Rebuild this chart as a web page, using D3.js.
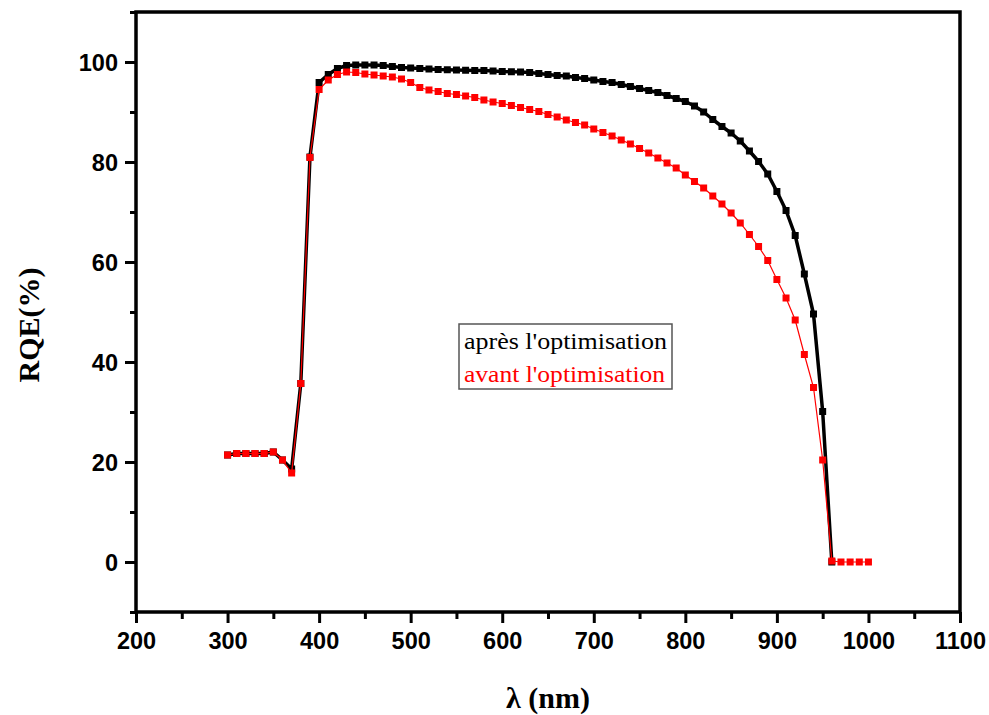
<!DOCTYPE html>
<html><head><meta charset="utf-8">
<script src="https://cdn.jsdelivr.net/npm/d3@7"></script>
<style>
html,body{margin:0;padding:0;background:#fff;}
svg{display:block;}
</style></head>
<body>
<svg id="chart" width="989" height="715"></svg>
<script>
const wavelengths = [300,310,320,330,340,350,360,370,380,390,400,410,420,430,440,450,460,470,480,490,500,510,520,530,540,550,560,570,580,590,600,610,620,630,640,650,660,670,680,690,700,710,720,730,740,750,760,770,780,790,800,810,820,830,840,850,860,870,880,890,900,910,920,930,940,950,960,970,980,990,1000];
const apres = [21.4,21.7,21.7,21.7,21.7,22.0,20.4,18.6,35.7,81.0,95.9,97.5,98.7,99.3,99.4,99.4,99.4,99.3,99.1,98.9,98.8,98.7,98.6,98.5,98.45,98.4,98.35,98.3,98.3,98.2,98.1,98.05,98.0,97.9,97.7,97.5,97.3,97.2,96.9,96.7,96.4,96.1,95.9,95.5,95.1,94.7,94.3,93.9,93.3,92.7,92.1,91.2,90.0,88.5,87.1,85.8,84.2,82.2,80.1,77.6,74.1,70.3,65.3,57.6,49.6,30.1,0];
const avant = [21.4,21.7,21.7,21.7,21.7,22.0,20.4,17.8,35.7,80.9,94.5,96.4,97.5,98.0,97.9,97.6,97.4,97.2,97.0,96.6,95.9,94.9,94.4,94.1,93.7,93.5,93.2,92.9,92.4,92.0,91.7,91.3,90.9,90.5,90.1,89.5,89.0,88.4,87.9,87.4,86.6,85.9,85.2,84.4,83.6,82.7,81.8,80.8,79.8,78.8,77.4,76.1,74.8,73.2,71.6,69.8,67.8,65.5,63.1,60.3,56.5,52.8,48.4,41.5,34.9,20.4,0.2,0,0,0,0];
const xTicks = [200,300,400,500,600,700,800,900,1000,1100];
const xMinor = [250,350,450,550,650,750,850,950,1050];
const yTicks = [0,20,40,60,80,100];
const yMinor = [-10,10,30,50,70,90,110];
const seriesNames = ["après l'optimisation","avant l'optimisation"];
const seriesColors = ["#000000","#ff0000"];

const svg = d3.select("#chart");
const x = d3.scaleLinear().domain([200,1100]).range([136,960]);
const y = d3.scaleLinear().domain([-10,110]).range([612,12]);

const apresData = apres.map((v,i)=>({x:wavelengths[i],y:v}));
const avantData = avant.map((v,i)=>({x:wavelengths[i],y:v}));

// axes
const axW = 3.5;
const gx = svg.append("g").attr("transform",`translate(0,${y(-10)})`)
  .call(d3.axisBottom(x).tickValues(xTicks).tickSize(11).tickPadding(9).tickFormat(d3.format("d")));
const gxm = svg.append("g").attr("transform",`translate(0,${y(-10)})`)
  .call(d3.axisBottom(x).tickValues(xMinor).tickSize(7).tickFormat(""));
const gy = svg.append("g").attr("transform",`translate(${x(200)},0)`)
  .call(d3.axisLeft(y).tickValues(yTicks).tickSize(11).tickPadding(7).tickFormat(d3.format("d")));
const gym = svg.append("g").attr("transform",`translate(${x(200)},0)`)
  .call(d3.axisLeft(y).tickValues(yMinor).tickSize(6).tickFormat(""));
[gx,gxm,gy,gym].forEach(g=>{
  g.select(".domain").remove();
  g.selectAll(".tick line").attr("stroke","#000").attr("stroke-width",3);
  g.selectAll(".tick text").attr("fill","#000")
    .style("font-family","'Liberation Sans',Arial,sans-serif")
    .style("font-weight","bold").style("font-size","23.5px");
});
gy.selectAll(".tick text").attr("dy","0.36em");

// frame
svg.append("rect").attr("x",x(200)).attr("y",y(110))
  .attr("width",x(1100)-x(200)).attr("height",y(-10)-y(110))
  .attr("fill","none").attr("stroke","#000").attr("stroke-width",axW);

// series
const line = d3.line().x(d=>x(d.x)).y(d=>y(d.y));
const ms = 7;
svg.append("path").datum(apresData).attr("d",line)
  .attr("fill","none").attr("stroke",seriesColors[0]).attr("stroke-width",3.5).attr("stroke-linejoin","round");
svg.append("g").selectAll("rect").data(apresData).join("rect")
  .attr("x",d=>x(d.x)-ms/2).attr("y",d=>y(d.y)-ms/2).attr("width",ms).attr("height",ms)
  .attr("fill",seriesColors[0]);
svg.append("path").datum(avantData).attr("d",line)
  .attr("fill","none").attr("stroke",seriesColors[1]).attr("stroke-width",1.2);
svg.append("g").selectAll("rect").data(avantData).join("rect")
  .attr("x",d=>x(d.x)-ms/2).attr("y",d=>y(d.y)-ms/2).attr("width",ms).attr("height",ms)
  .attr("fill",seriesColors[1]);

// axis titles
svg.append("text").attr("x",548).attr("y",708).attr("text-anchor","middle")
  .style("font-family","'Liberation Serif','Times New Roman',serif").style("font-weight","bold").style("font-size","30px")
  .text("λ (nm)");
svg.append("text").attr("transform","translate(39,325) rotate(-90)").attr("text-anchor","middle")
  .style("font-family","'Liberation Serif','Times New Roman',serif").style("font-weight","bold").style("font-size","30px")
  .text("RQE(%)");

// legend
const lg = svg.append("g");
lg.append("rect").attr("x",459).attr("y",324).attr("width",213).attr("height",65)
  .attr("fill","#fff").attr("stroke","#555").attr("stroke-width",1.5);
const legendW = [203,201];
seriesNames.forEach((n,i)=>{
  lg.append("text").attr("x",464).attr("y",349+i*33)
    .attr("fill",seriesColors[i])
    .attr("textLength",legendW[i]).attr("lengthAdjust","spacingAndGlyphs")
    .style("font-family","'Liberation Serif','Times New Roman',serif").style("font-size","24px")
    .text(n);
});
</script>
</body></html>
